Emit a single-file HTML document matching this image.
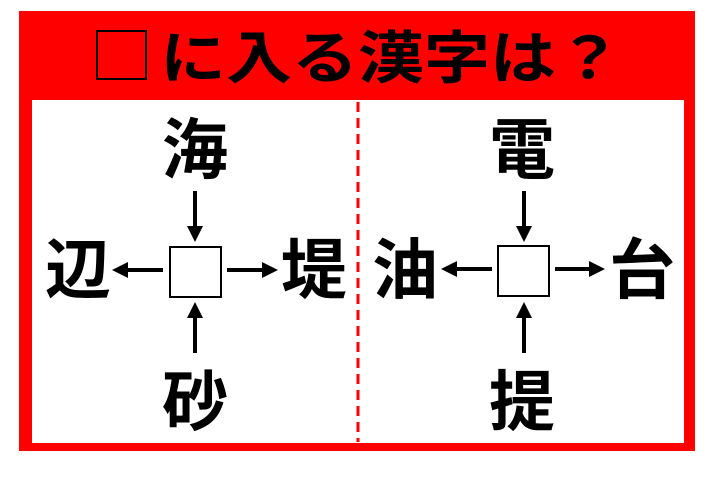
<!DOCTYPE html>
<html><head><meta charset="utf-8"><style>
html,body{margin:0;padding:0;background:#fff;}
svg{display:block}
text{font-family:"Liberation Sans","Noto Sans CJK JP",sans-serif;font-weight:bold;}
</style></head><body>
<svg width="720" height="493" viewBox="0 0 720 493" xmlns="http://www.w3.org/2000/svg">
<rect x="19" y="11" width="676" height="440" fill="#ff0000"/>
<rect x="32" y="100" width="652" height="343" fill="#fff"/>
<line x1="358" y1="102" x2="358" y2="442" stroke="#ff0000" stroke-width="3" stroke-dasharray="10,6"/>
<rect x="97" y="31" width="49" height="48" fill="none" stroke="#000" stroke-width="2"/>
<text x="160" y="78" font-size="57" fill="#000" textLength="462" lengthAdjust="spacingAndGlyphs">に入る漢字は？</text>
<g fill="#000" font-size="66" text-anchor="middle">
<text x="195" y="173">海</text>
<text x="78" y="293">辺</text>
<text x="314" y="293">堤</text>
<text x="195" y="425">砂</text>
<text x="522" y="173">電</text>
<text x="405" y="293">油</text>
<text x="642" y="293">台</text>
<text x="522" y="425">提</text>
</g>
<g fill="#fff" stroke="#000" stroke-width="2">
<rect x="170" y="247" width="51" height="50"/>
<rect x="498" y="246" width="51" height="50"/>
</g>
<g stroke="#000" stroke-width="4">
<line x1="195" y1="191" x2="195" y2="228"/>
<line x1="195" y1="353" x2="195" y2="315"/>
<line x1="163" y1="270" x2="126" y2="270"/>
<line x1="227" y1="270" x2="264" y2="270"/>
<line x1="524" y1="191" x2="524" y2="228"/>
<line x1="524" y1="353" x2="524" y2="315"/>
<line x1="492" y1="269" x2="455" y2="269"/>
<line x1="555" y1="269" x2="591" y2="269"/>
</g>
<g fill="#000">
<polygon points="187,226 203,226 195,242"/>
<polygon points="187,318 203,318 195,302"/>
<polygon points="128,262 128,278 112,270"/>
<polygon points="262,262 262,278 278,270"/>
<polygon points="516,226 532,226 524,242"/>
<polygon points="516,318 532,318 524,302"/>
<polygon points="457,261 457,277 441,269"/>
<polygon points="589,261 589,277 605,269"/>
</g>
</svg>
</body></html>
